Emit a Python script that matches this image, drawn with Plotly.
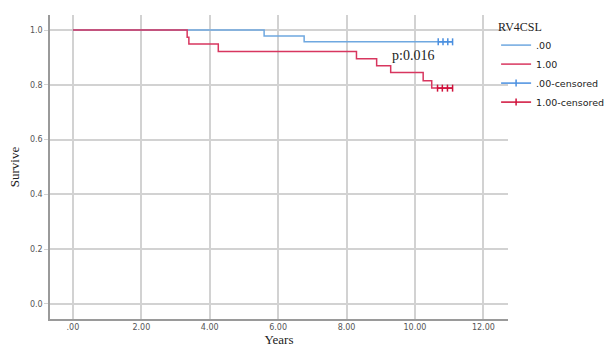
import plotly.graph_objects as go

# Kaplan-Meier step data
blue_t = [0.0, 5.59, 6.76, 11.1]
blue_s = [1.0, 0.978, 0.957, 0.957]
red_t = [0.0, 3.34, 3.39, 4.25, 8.29, 8.88, 9.29, 10.24, 10.49, 11.1]
red_s = [1.0, 0.974, 0.949, 0.922, 0.895, 0.870, 0.845, 0.815, 0.788, 0.788]
blue_cens_t = [10.68, 10.82, 10.96, 11.1]
blue_cens_s = [0.957, 0.957, 0.957, 0.957]
red_cens_t = [10.66, 10.8, 10.95, 11.1]
red_cens_s = [0.788, 0.788, 0.788, 0.788]

x_ticks = [0, 2, 4, 6, 8, 10, 12]
x_tick_labels = [".00", "2.00", "4.00", "6.00", "8.00", "10.00", "12.00"]
y_ticks = [0.0, 0.2, 0.4, 0.6, 0.8, 1.0]
y_tick_labels = ["0.0", "0.2", "0.4", "0.6", "0.8", "1.0"]

BLUE = "#6fa8e0"
RED = "#d8365f"
BLUE_C = "#4a8fe0"
RED_C = "#d0103a"

fig = go.Figure()
fig.add_trace(go.Scatter(x=blue_t, y=blue_s, mode="lines", line=dict(color=BLUE, width=1.5, shape="hv"), name=".00"))
fig.add_trace(go.Scatter(x=red_t, y=red_s, mode="lines", line=dict(color=RED, width=1.5, shape="hv"), name="1.00"))
fig.add_trace(go.Scatter(x=blue_cens_t, y=blue_cens_s, mode="lines+markers",
                         line=dict(color=BLUE_C, width=1.5),
                         marker=dict(symbol="line-ns-open", size=5, line=dict(color=BLUE_C, width=1.5)),
                         name=".00-censored"))
fig.add_trace(go.Scatter(x=red_cens_t, y=red_cens_s, mode="lines+markers",
                         line=dict(color=RED_C, width=1.5),
                         marker=dict(symbol="line-ns-open", size=5, line=dict(color=RED_C, width=1.5)),
                         name="1.00-censored"))

fig.add_annotation(x=9.94, y=0.906, xref="x", yref="y", text="p:0.016", showarrow=False,
                   font=dict(family="Liberation Serif", size=14, color="#222"), xanchor="center", yanchor="middle")

fig.update_layout(
    width=609, height=347,
    margin=dict(l=50, r=101, t=15, b=28, autoexpand=False),
    paper_bgcolor="white", plot_bgcolor="white",
    showlegend=True,
    legend=dict(
        x=0.974, xanchor="left", y=1.0, yanchor="top",
        title=dict(text="RV4CSL", font=dict(family="Liberation Serif", size=12, color="#222")),
        font=dict(family="DejaVu Sans", size=9.5, color="#222"),
        tracegroupgap=0, itemwidth=30, borderwidth=0, bgcolor="rgba(0,0,0,0)",
    ),
    xaxis=dict(
        range=[-0.67, 12.72], tickvals=x_ticks, ticktext=x_tick_labels,
        showgrid=True, gridcolor="#d2d2d2", gridwidth=1.5, zeroline=False,
        showline=True, linecolor="#9a9a9a", linewidth=1.5,
        ticks="", tickfont=dict(family="DejaVu Sans", size=8, color="#555"),
        title=dict(text="Years", font=dict(family="Liberation Serif", size=13, color="#222"), standoff=5),
        automargin=False,
    ),
    yaxis=dict(
        range=[-0.055, 1.055], tickvals=y_ticks, ticktext=y_tick_labels,
        showgrid=True, gridcolor="#d2d2d2", gridwidth=1.5, zeroline=False,
        showline=True, linecolor="#9a9a9a", linewidth=1.5,
        ticks="outside", ticklen=4, tickcolor="#d2d2d2",
        tickfont=dict(family="DejaVu Sans", size=8, color="#555"),
        title=dict(text="Survive", font=dict(family="Liberation Serif", size=13, color="#222"), standoff=7),
        automargin=False,
    ),
)

fig.write_html("out.html", config={"displayModeBar": False},
               post_script="document.body.style.margin='0px';")
